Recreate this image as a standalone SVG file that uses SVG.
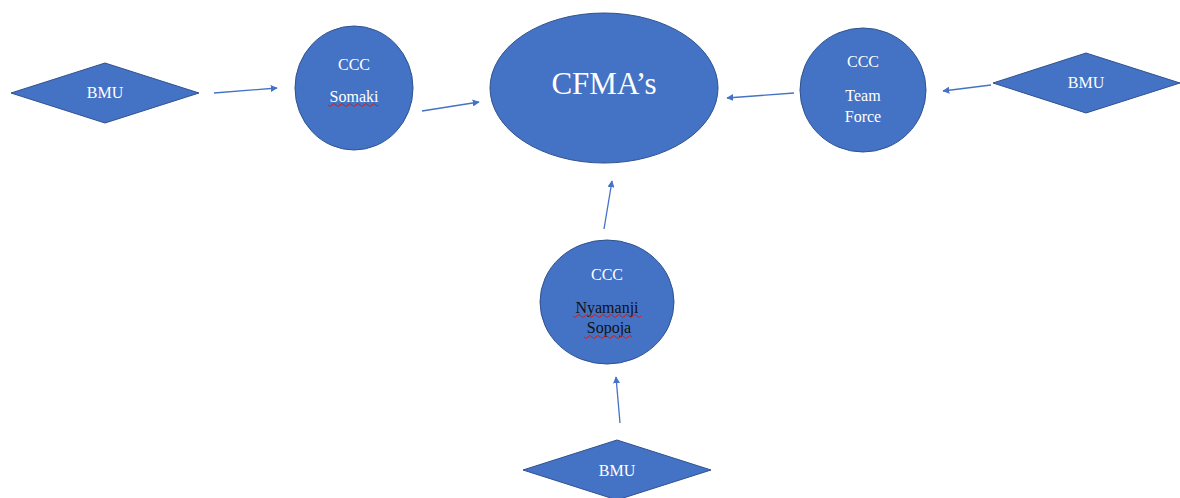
<svg xmlns="http://www.w3.org/2000/svg" width="1180" height="498" viewBox="0 0 1180 498">
<style>
.shape{fill:#4472C4;stroke:#2F528F;stroke-width:1}
.t{font-family:"Liberation Serif","Times New Roman",serif;font-size:16px;fill:#ffffff;text-anchor:middle}
.dk{fill:#111111}
.big{font-size:31px}
.conn{stroke:#4472C4;stroke-width:1.3;fill:none;marker-end:url(#ah)}
.sq{stroke:#D02020;stroke-width:1;fill:none}
</style>
<defs>
<marker id="ah" viewBox="0 0 10 10" refX="9" refY="5" markerWidth="7" markerHeight="7" orient="auto" markerUnits="userSpaceOnUse">
<path d="M0,0 L10,5 L0,10 z" fill="#4472C4"/>
</marker>
</defs>
<rect width="1180" height="498" fill="#ffffff"/>
<g id="connectors">
<line class="conn" x1="214" y1="93" x2="277" y2="88"/>
<line class="conn" x1="422" y1="111" x2="479" y2="102"/>
<line class="conn" x1="794" y1="93" x2="727" y2="98"/>
<line class="conn" x1="991" y1="85" x2="943" y2="91"/>
<line class="conn" x1="620" y1="423" x2="616" y2="377"/>
<line class="conn" x1="604" y1="229" x2="612" y2="181"/>
</g>
<g id="cfma">
<ellipse class="shape" cx="604" cy="88" rx="114" ry="75"/>
<text class="t big" x="604" y="94">CFMA’s</text>
</g>
<g id="ccc-somaki">
<ellipse class="shape" cx="354" cy="88" rx="59" ry="62"/>
<text class="t" x="354" y="70">CCC</text>
<text class="t" x="354" y="102">Somaki</text>
<path class="sq" d="M328,105 q2,3 4,0 t4,0 t4,0 t4,0 t4,0 t4,0 t4,0 t4,0 t4,0 t4,0 t4,0 t4,0 t2,0"/>
</g>
<g id="ccc-teamforce">
<ellipse class="shape" cx="863" cy="90" rx="63" ry="62"/>
<text class="t" x="863" y="67">CCC</text>
<text class="t" x="863" y="101">Team</text>
<text class="t" x="863" y="122">Force</text>
</g>
<g id="ccc-nyamanji">
<ellipse class="shape" cx="607" cy="302" rx="67" ry="62"/>
<text class="t" x="607" y="280">CCC</text>
<text class="t dk" x="607" y="313">Nyamanji</text>
<text class="t dk" x="609" y="333">Sopoja</text>
<path class="sq" d="M573,316 q2,3 4,0 t4,0 t4,0 t4,0 t4,0 t4,0 t4,0 t4,0 t4,0 t4,0 t4,0 t4,0 t4,0 t4,0 t4,0 t4,0 t4,0"/>
<path class="sq" d="M584,337 q2,3 4,0 t4,0 t4,0 t4,0 t4,0 t4,0 t4,0 t4,0 t4,0 t4,0 t4,0 t4,0"/>
</g>
<g id="bmu-left">
<polygon class="shape" points="11,93 105,63 199,93 105,123"/>
<text class="t" x="105" y="98">BMU</text>
</g>
<g id="bmu-right">
<polygon class="shape" points="993,83 1086,53 1180,83 1086,113"/>
<text class="t" x="1086" y="88">BMU</text>
</g>
<g id="bmu-bottom">
<polygon class="shape" points="523,470 617,440 711,470 617,500"/>
<text class="t" x="617" y="476">BMU</text>
</g>
</svg>
